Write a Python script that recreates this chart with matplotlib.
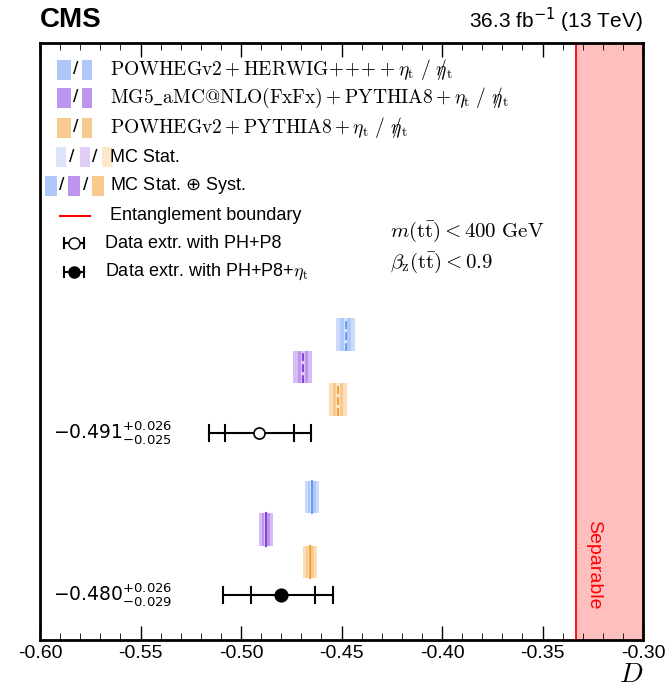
import matplotlib
matplotlib.use('Agg')
import matplotlib.pyplot as plt
from matplotlib.patches import Rectangle
import numpy as np

plt.rcParams['font.family'] = 'Liberation Sans'
plt.rcParams['mathtext.fontset'] = 'cm'

# MC predictions: central value, total half-width
models = ['PH+H7', 'MG5+P8', 'PH+P8']
colors = ['#6c9bf5', '#8a3fe0', '#f5a033']
upper_val = [-0.448, -0.4693, -0.4517]
lower_val = [-0.4648, -0.4876, -0.4658]
upper_tot = [0.0047, 0.0047, 0.0045]
lower_tot = [0.0036, 0.0036, 0.0036]
upper_y = [9.4, 8.4, 7.4]
lower_y = [4.4, 3.4, 2.4]

# Data extracted
data_val = [-0.491, -0.480]
data_stat_lo = [0.0171, 0.0152]
data_stat_hi = [0.0172, 0.0168]
data_tot_lo = [0.025, 0.029]
data_tot_hi = [0.026, 0.026]
data_y = [6.38, 1.385]
data_label = [r'$-0.491^{+0.026}_{-0.025}$', r'$-0.480^{+0.026}_{-0.029}$']

boundary = -1/3

fig = plt.figure(figsize=(6.72, 7.0), dpi=100)
ax = fig.add_axes([40/672, 60/700, 603/672, 597/700])
ax.set_xlim(-0.6, -0.3)
ax.set_ylim(0, 18.37)
ax.set_yticks([])

def mcbox(x, y, hw, c, dashed):
    ax.add_patch(Rectangle((x - hw, y - 0.5), 2*hw, 1.0, color=c, alpha=0.35, lw=0))
    ax.add_patch(Rectangle((x - hw*0.55, y - 0.5), 2*hw*0.55, 1.0, color=c, alpha=0.3, lw=0))
    ax.add_patch(Rectangle((x - hw*0.2, y - 0.5), 2*hw*0.2, 1.0, color='white', alpha=0.5, lw=0))
    ax.plot([x, x], [y - 0.5, y + 0.5], color=c, lw=1.5, ls='--' if dashed else '-')

for i in range(3):
    mcbox(upper_val[i], upper_y[i], upper_tot[i], colors[i], True)
    mcbox(lower_val[i], lower_y[i], lower_tot[i], colors[i], False)

for i in range(2):
    v, y = data_val[i], data_y[i]
    ax.plot([v - data_tot_lo[i], v + data_tot_hi[i]], [y, y], color='k', lw=1.5)
    for xc in [v - data_tot_lo[i], v - data_stat_lo[i], v + data_stat_hi[i], v + data_tot_hi[i]]:
        ax.plot([xc, xc], [y - 0.25, y + 0.25], color='k', lw=1.5)
    ax.plot(v, y, 'o', ms=9 if i else 8, mfc='k' if i else 'white', mec='k', mew=1.2, zorder=5)
    ax.text(-0.5935, y, data_label[i], fontsize=13.5, va='center', ha='left',
            math_fontfamily='dejavusans')

ax.axvspan(boundary, -0.3, color='#ffbfbf', lw=0)
ax.axvline(boundary, color='red', lw=1.3)
ax.text(-0.3245, (640 - 565) / 32.5, 'Separable', color='red', rotation=-90, fontsize=14,
        ha='center', va='center')

ax.text((390 - 40) / 603, (640 - 232) / 597, r'$m(\mathrm{t\bar{t}}) < 400\ \mathrm{GeV}$',
        transform=ax.transAxes, fontsize=15, va='center')
ax.text((390 - 40) / 603, (640 - 263) / 597, r'$\beta_{\mathrm{z}}(\mathrm{t\bar{t}}) < 0.9$',
        transform=ax.transAxes, fontsize=15, va='center')

# legend drawn by hand
def axx(px):
    return (px - 40) / 603
def axy(py):
    return (640 - py) / 597

def icon(x0, py, c, w=14, a=0.45):
    ax.add_patch(Rectangle((axx(x0), axy(py + 10)), w / 603, 20 / 597, transform=ax.transAxes,
                           color=c, alpha=a, lw=0))

def slash(px, py):
    ax.text(axx(px), axy(py), '/', transform=ax.transAxes, fontsize=14, va='center', ha='center')

rows = [70, 98, 128]
model_text = [r'$\mathrm{POWHEGv2+HERWIG\!+\!\!+\!\!+}\!+\eta_{\mathrm{t}}\ /\ \eta\!\!\!/_{\mathrm{t}}$',
              r'$\mathrm{MG5\_aMC@NLO(FxFx)+PYTHIA8}+\eta_{\mathrm{t}}\ /\ \eta\!\!\!/_{\mathrm{t}}$',
              r'$\mathrm{POWHEGv2+PYTHIA8}+\eta_{\mathrm{t}}\ /\ \eta\!\!\!/_{\mathrm{t}}$']
for i in range(3):
    py = rows[i]
    icon(57, py, colors[i], 14, 0.55)
    slash(76, py)
    icon(82, py, colors[i], 10, 0.55)
    ax.text(axx(110), axy(py), model_text[i], transform=ax.transAxes, fontsize=14, va='center')
py = 157
for j, x0 in enumerate([56, 80, 102]):
    icon(x0, py, colors[j], 10, 0.25)
slash(72, py)
slash(95, py)
ax.text(axx(110), axy(py), 'MC Stat.', transform=ax.transAxes, fontsize=13, va='center')
py = 186
for j, x0 in enumerate([45, 68, 92]):
    icon(x0, py, colors[j], 12, 0.55)
slash(62, py)
slash(86, py)
ax.text(axx(110), axy(py), r'MC Stat. $\oplus$ Syst.', transform=ax.transAxes, fontsize=13,
        va='center', math_fontfamily='dejavusans')
ax.plot([axx(60), axx(90)], [axy(216)] * 2, color='red', lw=1.5, transform=ax.transAxes)
ax.text(axx(110), axy(216), 'Entanglement boundary', transform=ax.transAxes, fontsize=13, va='center')
for py, fill, lab in [(243, 'white', 'Data extr. with PH+P8'),
                      (272, 'k', r'Data extr. with PH+P8+$\eta_{\mathrm{t}}$')]:
    ax.plot([axx(64), axx(84)], [axy(py)] * 2, color='k', lw=1.5, transform=ax.transAxes)
    for xc in [64, 84]:
        ax.plot([axx(xc)] * 2, [axy(py - 5), axy(py + 5)], color='k', lw=1.5, transform=ax.transAxes)
    ax.plot(axx(74), axy(py), 'o', ms=8, mfc=fill, mec='k', transform=ax.transAxes)
    ax.text(axx(105), axy(py), lab, transform=ax.transAxes, fontsize=13, va='center')

ax.set_xticks(np.arange(-0.6, -0.299, 0.05))
ax.set_xticklabels(['-0.60', '-0.55', '-0.50', '-0.45', '-0.40', '-0.35', '-0.30'], fontsize=14)
ax.set_xticks(np.arange(-0.6, -0.299, 0.01), minor=True)
ax.tick_params(axis='x', which='major', direction='in', length=10, top=True, width=1)
ax.tick_params(axis='x', which='minor', direction='in', length=5, top=True)
for s in ax.spines.values():
    s.set_linewidth(2)
ax.set_xlabel(r'$D$', fontsize=20, loc='right', labelpad=0)

fig.text(40/672, 1 - 20/700, 'CMS', fontsize=20, fontweight='bold', va='center')
fig.text(643/672, 1 - 20/700, r'36.3 fb$^{-1}$ (13 TeV)', fontsize=15, va='center', ha='right',
         math_fontfamily='dejavusans')

fig.savefig('out.png', dpi=100)
